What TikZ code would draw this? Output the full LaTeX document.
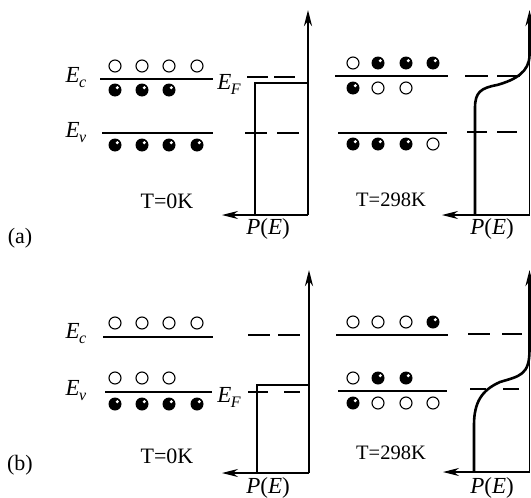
\documentclass[tikz,border=0pt]{standalone}
\usepackage{fontspec}
\setmainfont{Liberation Serif}
\usetikzlibrary{arrows.meta}
\newcommand{\lv}[2]{\textit{#1}\kern-0.5pt\raisebox{-5pt}{\fontsize{16}{16}\selectfont\textit{#2}}}
\newcommand{\pe}{\textit{P}(\textit{E})}
\tikzset{
  lbl/.style={inner sep=0pt, font=\fontsize{21}{23}\selectfont},
  mlbl/.style={inner sep=0pt, font=\fontsize{23}{25}\selectfont},
  hole/.style={circle, draw, line width=1.1pt, minimum size=12pt, inner sep=0pt},
  elec/.style={circle, fill=black, minimum size=13pt, inner sep=0pt,
    path picture={\fill[white] ([xshift=2.3pt,yshift=2.3pt]path picture bounding box.center) circle (1.7pt);}},
  band/.style={line width=1.2pt},
  fermi/.style={line width=1.2pt},
  thickcurve/.style={line width=2.6pt},
  thin/.style={line width=1.1pt},
  tip/.style={-{Stealth[length=16pt,width=8pt]}},
}
\begin{document}
\begin{tikzpicture}[x=1pt,y=-1pt]
\useasboundingbox (0,0) rectangle (531,498);
% ---------------- panel (a), T = 0 K ----------------
\node[lbl, font=\fontsize{22}{24}\selectfont] (la) at (20,238) {(a)};
\node[mlbl] (aEc) at (76,78) {\lv{E}{c}};
\node[mlbl] (aEv) at (76,133) {\lv{E}{v}};
\coordinate (aEc1) at (100,79); \coordinate (aEc2) at (213,79);
\coordinate (aEv1) at (102,133); \coordinate (aEv2) at (213,133);
\draw[band] (aEc1) -- (aEc2);
\draw[band] (aEv1) -- (aEv2);
\foreach \x [count=\i] in {115,142,169,197} \node[hole] (ah\i) at (\x,66) {};
\foreach \x [count=\i] in {115,142,169} \node[elec] (ae\i) at (\x,90) {};
\foreach \x [count=\i] in {115,142,169,197} \node[elec] (av\i) at (\x,145) {};
\node[mlbl] (aEF) at (229,84) {\lv{E}{F}};
\coordinate (afd1) at (247,77); \coordinate (afd2) at (296,77);
\coordinate (avd1) at (245,133); \coordinate (avd2) at (299,133);
\draw[fermi, dash pattern=on 21pt off 6pt] (afd1) -- (afd2);
\draw[fermi, dash pattern=on 22pt off 10pt] (avd1) -- (avd2);
\coordinate (as0) at (255,215); \coordinate (as1) at (255,83);
\coordinate (as2) at (308,83); \coordinate (as3) at (308,10);
\coordinate (aax) at (308,215); \coordinate (aaxt) at (222,215);
\draw[thickcurve, tip] (as0) -- (as1) -- (as2) -- (as3);
\draw[thin] (as2) -- (aax);
\draw[thin, tip] (aax) -- (aaxt);
\node[lbl, font=\fontsize{22}{24}\selectfont] (aT0) at (167,201) {T=0K};
\node[mlbl] (aP0) at (268,229) {\pe};
% ---------------- panel (a), T = 298 K ----------------
\coordinate (bEc1) at (335,76); \coordinate (bEc2) at (448,76);
\coordinate (bEv1) at (338,133); \coordinate (bEv2) at (447,133);
\draw[band] (bEc1) -- (bEc2);
\draw[band] (bEv1) -- (bEv2);
\node[hole] (bh1) at (353,63) {};
\foreach \x [count=\i] in {378,406,433} \node[elec] (be\i) at (\x,63) {};
\node[elec] (bf1) at (353,88) {};
\foreach \x [count=\i] in {378,406} \node[hole] (bg\i) at (\x,88) {};
\foreach \x [count=\i] in {353,378,406} \node[elec] (bv\i) at (\x,144) {};
\node[hole] (bw1) at (433,144) {};
\coordinate (bfd1) at (465,76); \coordinate (bfd2) at (522,76);
\coordinate (bvd1) at (467,132); \coordinate (bvd2) at (518,132);
\draw[fermi, dash pattern=on 23pt off 9pt] (bfd1) -- (bfd2);
\draw[fermi, dash pattern=on 20pt off 10pt] (bvd1) -- (bvd2);
\coordinate (bc0) at (475,215); \coordinate (bc1) at (475,108);
\coordinate (bc2) at (497,85); \coordinate (bc3) at (529.5,55);
\coordinate (bc4) at (529.5,10);
\coordinate (bax) at (529.5,215); \coordinate (baxt) at (442,215);
\draw[thickcurve, tip] (bc0) -- (bc1) .. controls (475,92) and (481,88) .. (bc2)
   .. controls (515,80) and (529.5,72) .. (bc3) -- (bc4);
\draw[thin] (bc3) -- (bax);
\draw[thin, tip] (bax) -- (baxt);
\node[lbl, font=\fontsize{20.5}{23}\selectfont] (bT) at (391,200) {T=298K};
\node[mlbl] (bP) at (492,229) {\pe};
% ---------------- panel (b), T = 0 K ----------------
\node[lbl, font=\fontsize{22}{24}\selectfont] (lb) at (20,465) {(b)};
\node[mlbl] (cEc) at (76,334) {\lv{E}{c}};
\node[mlbl] (cEv) at (76,391) {\lv{E}{v}};
\coordinate (cEc1) at (103,337); \coordinate (cEc2) at (213,337);
\coordinate (cEv1) at (105,392); \coordinate (cEv2) at (212,392);
\draw[band] (cEc1) -- (cEc2);
\draw[band] (cEv1) -- (cEv2);
\foreach \x [count=\i] in {115,142,169,197} \node[hole] (ch\i) at (\x,323) {};
\foreach \x [count=\i] in {115,142,169} \node[hole] (cg\i) at (\x,378) {};
\foreach \x [count=\i] in {115,142,169,197} \node[elec] (cv\i) at (\x,404) {};
\node[mlbl] (cEF) at (229,397) {\lv{E}{F}};
\coordinate (cfd1) at (248,335); \coordinate (cfd2) at (300,335);
\coordinate (cvd1) at (248,392); \coordinate (cvd2) at (300,392);
\draw[fermi, dash pattern=on 22pt off 8pt] (cfd1) -- (cfd2);
\draw[fermi, dash pattern=on 20pt off 16pt] (cvd1) -- (cvd2);
\coordinate (cs0) at (257,473); \coordinate (cs1) at (257,385);
\coordinate (cs2) at (309,385); \coordinate (cs3) at (309,270);
\coordinate (cax) at (309,473); \coordinate (caxt) at (222,473);
\draw[thickcurve, tip] (cs0) -- (cs1) -- (cs2) -- (cs3);
\draw[thin] (cs2) -- (cax);
\draw[thin, tip] (cax) -- (caxt);
\node[lbl, font=\fontsize{22}{24}\selectfont] (cT) at (167,456) {T=0K};
\node[mlbl] (cP) at (268,488) {\pe};
% ---------------- panel (b), T = 298 K ----------------
\coordinate (dEc1) at (336,335); \coordinate (dEc2) at (448,335);
\coordinate (dEv1) at (338,391); \coordinate (dEv2) at (447,391);
\draw[band] (dEc1) -- (dEc2);
\draw[band] (dEv1) -- (dEv2);
\foreach \x [count=\i] in {353,378,406} \node[hole] (dh\i) at (\x,322) {};
\node[elec] (de1) at (433,322) {};
\node[hole] (dg1) at (353,378) {};
\foreach \x [count=\i] in {378,406} \node[elec] (df\i) at (\x,378) {};
\node[elec] (dv1) at (353,403) {};
\foreach \x [count=\i] in {378,406,433} \node[hole] (dw\i) at (\x,403) {};
\coordinate (dfd1) at (468,334); \coordinate (dfd2) at (522,334);
\coordinate (dvd1) at (470,389); \coordinate (dvd2) at (520,389);
\draw[fermi, dash pattern=on 22pt off 12pt] (dfd1) -- (dfd2);
\draw[fermi, dash pattern=on 16pt off 17pt] (dvd1) -- (dvd2);
\coordinate (dc0) at (474,472); \coordinate (dc1) at (474,425);
\coordinate (dc2) at (500,382); \coordinate (dc3) at (529.5,350);
\coordinate (dc4) at (529.5,270);
\coordinate (dax) at (529.5,472); \coordinate (daxt) at (443,472);
\draw[thickcurve, tip] (dc0) -- (dc1) .. controls (474,402) and (482,390) .. (dc2)
   .. controls (520,376) and (529.5,375) .. (dc3) -- (dc4);
\draw[thin] (dc3) -- (dax);
\draw[thin, tip] (dax) -- (daxt);
\node[lbl, font=\fontsize{20.5}{23}\selectfont] (dT) at (391,453) {T=298K};
\node[mlbl] (dP) at (492,488) {\pe};
\end{tikzpicture}
\end{document}
